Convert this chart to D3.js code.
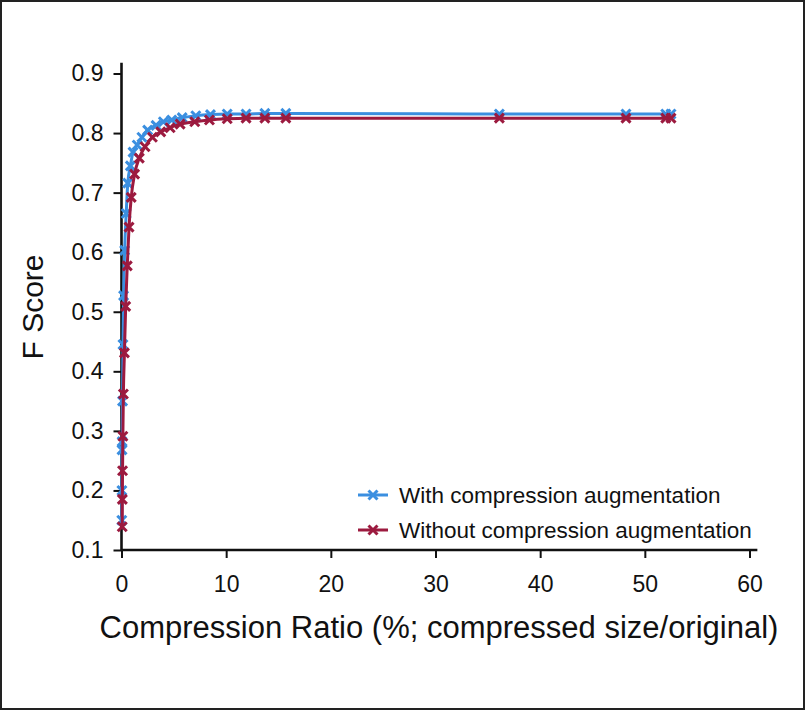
<!DOCTYPE html>
<html>
<head>
<meta charset="utf-8">
<script src="https://cdn.jsdelivr.net/npm/d3@7"></script>
<style>
  html, body { margin: 0; padding: 0; background: #fff; }
  svg { display: block; font-family: "Liberation Sans", Arial, Helvetica, sans-serif; }
</style>
</head>
<body>
<svg id="chart" width="805" height="710"></svg>
<script>
// ---- Data ----
const seriesNames = ["With compression augmentation", "Without compression augmentation"];
const withX = [0.03, 0.04, 0.05, 0.06, 0.1, 0.14, 0.2, 0.3, 0.45, 0.6, 0.85, 1.1, 1.5, 1.95, 2.5, 3.3, 4.0, 4.8, 5.8, 7.1, 8.5, 10.1, 11.9, 13.7, 15.7, 36.1, 48.2, 52.0, 52.5];
const withY = [0.15, 0.2, 0.268, 0.282, 0.35, 0.445, 0.527, 0.603, 0.665, 0.716, 0.745, 0.768, 0.78, 0.793, 0.805, 0.813, 0.819, 0.822, 0.826, 0.829, 0.831, 0.832, 0.832, 0.833, 0.833, 0.832, 0.832, 0.832, 0.832];
const withoutX = [0.07, 0.08, 0.1, 0.13, 0.18, 0.28, 0.4, 0.55, 0.72, 0.93, 1.25, 1.7, 2.25, 2.95, 3.75, 4.65, 5.6, 7.0, 8.4, 10.1, 11.9, 13.7, 15.7, 36.1, 48.2, 52.0, 52.5];
const withoutY = [0.139, 0.185, 0.233, 0.291, 0.362, 0.431, 0.509, 0.577, 0.642, 0.692, 0.731, 0.758, 0.777, 0.793, 0.802, 0.809, 0.815, 0.819, 0.822, 0.824, 0.825, 0.825, 0.825, 0.825, 0.825, 0.825, 0.825];
const xTicks = [0, 10, 20, 30, 40, 50, 60];
const yTicks = [0.1, 0.2, 0.3, 0.4, 0.5, 0.6, 0.7, 0.8, 0.9];
const xTitle = "Compression Ratio (%; compressed size/original)";
const yTitle = "F Score";
const colors = ["#3b8fe0", "#9c1a3f"];

// ---- Layout ----
const svg = d3.select("#chart");
const x = d3.scaleLinear().domain([0, 60]).range([121.5, 749.5]);
const y = d3.scaleLinear().domain([0.1, 0.9]).range([550, 73.5]);

// frame
svg.append("rect").attr("x", 1).attr("y", 1).attr("width", 803).attr("height", 708)
  .attr("fill", "none").attr("stroke", "#222").attr("stroke-width", 2);

// axes
const xAxis = d3.axisBottom(x).tickValues(xTicks).tickSize(8).tickPadding(8).tickFormat(d3.format("d"));
const yAxis = d3.axisLeft(y).tickValues(yTicks).tickSize(8).tickPadding(10).tickFormat(d3.format(".1f"));

const gx = svg.append("g").attr("transform", `translate(0,${y(0.1)})`).call(xAxis);
const gy = svg.append("g").attr("transform", `translate(${x(0)},0)`).call(yAxis);
[gx, gy].forEach(g => {
  g.select(".domain").remove();
  g.selectAll(".tick line").attr("stroke", "#111").attr("stroke-width", 2);
  g.selectAll(".tick text").attr("fill", "#111").attr("font-size", 23)
    .attr("font-family", "'Liberation Sans', Arial, sans-serif");
});
gx.selectAll(".tick text").attr("dy", "1.15em");
// axis lines (extend slightly past domain like the original)
svg.append("line").attr("x1", x(0)).attr("x2", x(60.75)).attr("y1", y(0.1)).attr("y2", y(0.1))
  .attr("stroke", "#111").attr("stroke-width", 2.6);
svg.append("line").attr("x1", x(0)).attr("x2", x(0)).attr("y1", y(0.1) + 1).attr("y2", y(0.918))
  .attr("stroke", "#111").attr("stroke-width", 2.6);

// titles
svg.append("text").attr("x", 439).attr("y", 638).attr("text-anchor", "middle")
  .attr("font-size", 31).attr("fill", "#111").text(xTitle);
svg.append("text").attr("transform", "translate(43,307) rotate(-90)").attr("text-anchor", "middle")
  .attr("font-size", 30).attr("fill", "#111").text(yTitle);

// series
const series = [
  { name: seriesNames[0], xs: withX, ys: withY, color: colors[0] },
  { name: seriesNames[1], xs: withoutX, ys: withoutY, color: colors[1] }
];
const line = d3.line().x(d => x(d[0])).y(d => y(d[1])).curve(d3.curveMonotoneX);
const ms = 4.5;
function drawX(g, cx, cy, color) {
  g.append("path")
    .attr("d", `M${cx - ms},${cy - ms}L${cx + ms},${cy + ms}M${cx - ms},${cy + ms}L${cx + ms},${cy - ms}`)
    .attr("stroke", color).attr("stroke-width", 3).attr("fill", "none");
}
series.forEach(s => {
  const pts = s.xs.map((v, i) => [v, s.ys[i]]);
  const g = svg.append("g");
  g.append("path").attr("d", line(pts)).attr("fill", "none")
    .attr("stroke", s.color).attr("stroke-width", 3);
  pts.forEach(p => drawX(g, x(p[0]), y(p[1]), s.color));
});

// legend
const legend = svg.append("g");
series.forEach((s, i) => {
  const ly = 495 + i * 35;
  legend.append("line").attr("x1", 358).attr("x2", 388).attr("y1", ly).attr("y2", ly)
    .attr("stroke", s.color).attr("stroke-width", 3);
  drawX(legend, 373, ly, s.color);
  legend.append("text").attr("x", 399).attr("y", ly + 7.5).attr("font-size", 22.5)
    .attr("fill", "#111").text(s.name);
});
</script>
</body>
</html>
